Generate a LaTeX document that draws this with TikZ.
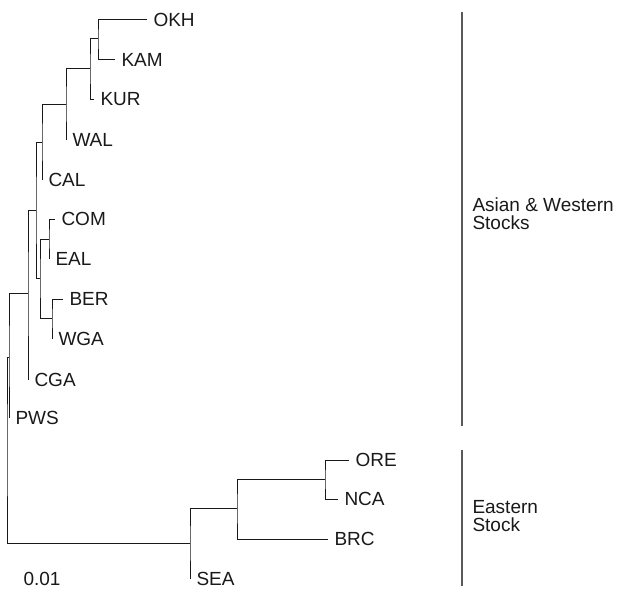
\documentclass[tikz,border=0pt]{standalone}
\usepackage{fontspec}
\setmainfont{Liberation Sans}
\begin{document}
\begin{tikzpicture}[x=1pt, y=-1pt,
	every path/.style={line width=1pt},
	taxon/.style={anchor=west, inner xsep=6pt, inner ysep=0pt,
				text=black!90, font=\fontsize{19}{18}\selectfont},
	branch/.style={draw=black!90},
	stock/.style={draw=black!65, line width=1.8pt}]
	\useasboundingbox (0,0) rectangle (617,591);
	% leaves
	\node[taxon] (okh) at (147,20) {OKH};
	\node[taxon] (kam) at (115,60) {KAM};
	\node[taxon] (kur) at (94,99) {KUR};
	\node[taxon] (wal) at (66,140) {WAL};
	\node[taxon] (cal) at (42,180) {CAL};
	\node[taxon] (com) at (55,219) {COM};
	\node[taxon] (eal) at (49,259) {EAL};
	\node[taxon] (ber) at (63,299) {BER};
	\node[taxon] (wga) at (52,339) {WGA};
	\node[taxon] (cga) at (28,380) {CGA};
	\node[taxon] (pws) at (9,418) {PWS};
	\node[taxon] (ore) at (349,460) {ORE};
	\node[taxon] (nca) at (338,499) {NCA};
	\node[taxon] (brc) at (328,539) {BRC};
	\node[taxon] (sea) at (190,579) {SEA};
	\node[taxon] (unit) at (17,579) {0.01};
	% internal nodes
	\coordinate (n1) at (98,39);
	\coordinate (n2) at (90,69);
	\coordinate (n3) at (66,104);
	\coordinate (n4) at (42,142);
	\coordinate (n5) at (49,239);
	\coordinate (n6) at (52,318);
	\coordinate (n7) at (40,278);
	\coordinate (n8) at (36,210);
	\coordinate (n9) at (28,293);
	\coordinate (n10) at (9,357);
	\coordinate (root) at (7,450);
	\coordinate (e1) at (325,479);
	\coordinate (e2) at (237,508);
	\coordinate (e3) at (190,543);
	% branches
	\draw[branch] (okh.west) -| (n1) |- (kam.west);
	\draw[branch] (n1) -| (n2) |- (kur.west);
	\draw[branch] (n2) -| (n3) |- (wal.west);
	\draw[branch] (n3) -| (n4) |- (cal.west);
	\draw[branch] (com.west) -| (n5) |- (eal.west);
	\draw[branch] (ber.west) -| (n6) |- (wga.west);
	\draw[branch] (n5) -| (n7) |- (n6);
	\draw[branch] (n4) -| (n8) |- (n7);
	\draw[branch] (n8) -| (n9) |- (cga.west);
	\draw[branch] (n9) -| (n10) |- (pws.west);
	\draw[branch] (n10) -| (root) |- (e3);
	\draw[branch] (ore.west) -| (e1) |- (nca.west);
	\draw[branch] (e1) -| (e2) |- (brc.west);
	\draw[branch] (e2) -| (e3) |- (sea.west);
	% stocks
	\coordinate (asiantop) at (462,12);
	\coordinate (asianend) at (462,426);
	\coordinate (easttop) at (462,450);
	\coordinate (eastend) at (462,586);
	\draw[stock] (asiantop) -- (asianend);
	\draw[stock] (easttop) -- (eastend);
	\node[taxon, align=left] (asian) at (466,214) {Asian \& Western\\Stocks};
	\node[taxon, align=left] (east) at (466,516) {Eastern\\Stock};
\end{tikzpicture}
\end{document}
